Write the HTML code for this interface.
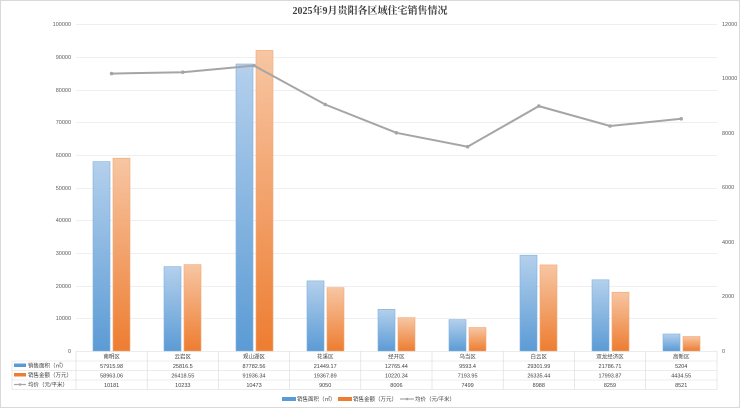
<!DOCTYPE html>
<html><head><meta charset="utf-8"><style>
body{margin:0;background:#fff}
svg{display:block;font-family:"Liberation Sans","Noto Sans CJK SC",sans-serif}
</style></head><body>
<svg width="740" height="408" viewBox="0 0 740 408" xmlns="http://www.w3.org/2000/svg">
<defs>
<linearGradient id="gb" x1="0" y1="0" x2="0" y2="1"><stop offset="0" stop-color="#b4d0ec"/><stop offset="1" stop-color="#5b9bd5"/></linearGradient>
<linearGradient id="go" x1="0" y1="0" x2="0" y2="1"><stop offset="0" stop-color="#f7c6a3"/><stop offset="1" stop-color="#ed7d31"/></linearGradient>
</defs>
<rect x="0.5" y="0.5" width="739" height="407" fill="#fff" stroke="#d9d9d9"/>
<text x="370" y="14" text-anchor="middle" font-size="10" font-weight="bold" fill="#404040" font-family="Liberation Serif,Noto Serif CJK SC,serif">2025年9月贵阳各区域住宅销售情况</text>
<g stroke="#efefef" stroke-width="1">
<line x1="76" x2="717" y1="24.5" y2="24.5"/><line x1="76" x2="717" y1="57.5" y2="57.5"/><line x1="76" x2="717" y1="90.5" y2="90.5"/><line x1="76" x2="717" y1="122.5" y2="122.5"/><line x1="76" x2="717" y1="155.5" y2="155.5"/><line x1="76" x2="717" y1="188.5" y2="188.5"/><line x1="76" x2="717" y1="220.5" y2="220.5"/><line x1="76" x2="717" y1="253.5" y2="253.5"/><line x1="76" x2="717" y1="286.5" y2="286.5"/><line x1="76" x2="717" y1="318.5" y2="318.5"/>
</g>
<g font-size="5.5" fill="#595959" text-anchor="end">
<text x="71" y="26">100000</text><text x="71" y="59">90000</text><text x="71" y="92">80000</text><text x="71" y="124">70000</text><text x="71" y="157">60000</text><text x="71" y="190">50000</text><text x="71" y="222">40000</text><text x="71" y="255">30000</text><text x="71" y="288">20000</text><text x="71" y="320">10000</text><text x="71" y="353">0</text>
</g>
<g font-size="5.5" fill="#595959">
<text x="722" y="26">12000</text><text x="722" y="80">10000</text><text x="722" y="135">8000</text><text x="722" y="189">6000</text><text x="722" y="244">4000</text><text x="722" y="298">2000</text><text x="722" y="353">0</text>
</g>
<g id="bars">
<rect x="93" y="161.6" width="17" height="189.4" fill="url(#gb)" stroke="#7fb0df" stroke-width="0.6"/>
<rect x="113" y="158.2" width="17" height="192.8" fill="url(#go)" stroke="#f2a877" stroke-width="0.6"/>
<rect x="164" y="266.6" width="17" height="84.4" fill="url(#gb)" stroke="#7fb0df" stroke-width="0.6"/>
<rect x="184" y="264.6" width="17" height="86.4" fill="url(#go)" stroke="#f2a877" stroke-width="0.6"/>
<rect x="236" y="64.0" width="17" height="287.0" fill="url(#gb)" stroke="#7fb0df" stroke-width="0.6"/>
<rect x="256" y="50.4" width="17" height="300.6" fill="url(#go)" stroke="#f2a877" stroke-width="0.6"/>
<rect x="307" y="280.9" width="17" height="70.1" fill="url(#gb)" stroke="#7fb0df" stroke-width="0.6"/>
<rect x="327" y="287.7" width="17" height="63.3" fill="url(#go)" stroke="#f2a877" stroke-width="0.6"/>
<rect x="378" y="309.3" width="17" height="41.7" fill="url(#gb)" stroke="#7fb0df" stroke-width="0.6"/>
<rect x="398" y="317.6" width="17" height="33.4" fill="url(#go)" stroke="#f2a877" stroke-width="0.6"/>
<rect x="449" y="319.6" width="17" height="31.4" fill="url(#gb)" stroke="#7fb0df" stroke-width="0.6"/>
<rect x="469" y="327.5" width="17" height="23.5" fill="url(#go)" stroke="#f2a877" stroke-width="0.6"/>
<rect x="520" y="255.2" width="17" height="95.8" fill="url(#gb)" stroke="#7fb0df" stroke-width="0.6"/>
<rect x="540" y="264.9" width="17" height="86.1" fill="url(#go)" stroke="#f2a877" stroke-width="0.6"/>
<rect x="592" y="279.8" width="17" height="71.2" fill="url(#gb)" stroke="#7fb0df" stroke-width="0.6"/>
<rect x="612" y="292.2" width="17" height="58.8" fill="url(#go)" stroke="#f2a877" stroke-width="0.6"/>
<rect x="663" y="334.0" width="17" height="17.0" fill="url(#gb)" stroke="#7fb0df" stroke-width="0.6"/>
<rect x="683" y="336.5" width="17" height="14.5" fill="url(#go)" stroke="#f2a877" stroke-width="0.6"/>
</g>
<polyline fill="none" stroke="#a5a5a5" stroke-width="2" points="111.6,73.6 182.8,72.2 254,65.6 325.2,104.5 396.4,132.8 467.6,146.7 538.8,106.1 610,126.0 681.2,118.8"/>
<g fill="#a5a5a5">
<circle cx="111.6" cy="73.6" r="1.8"/><circle cx="182.8" cy="72.2" r="1.8"/><circle cx="254" cy="65.6" r="1.8"/><circle cx="325.2" cy="104.5" r="1.8"/><circle cx="396.4" cy="132.8" r="1.8"/><circle cx="467.6" cy="146.7" r="1.8"/><circle cx="538.8" cy="106.1" r="1.8"/><circle cx="610" cy="126.0" r="1.8"/><circle cx="681.2" cy="118.8" r="1.8"/>
</g>
<g stroke="#d9d9d9" stroke-width="0.6" fill="none">
<line x1="76" x2="717" y1="351.5" y2="351.5"/>
<line x1="12" x2="717" y1="361" y2="361"/>
<line x1="12" x2="717" y1="370.5" y2="370.5"/>
<line x1="12" x2="717" y1="380" y2="380"/>
<line x1="12" x2="717" y1="389.5" y2="389.5"/>
<line x1="12" x2="12" y1="361" y2="389.5"/>
<line x1="76" x2="76" y1="351" y2="389.5"/><line x1="147.2" x2="147.2" y1="351" y2="389.5"/><line x1="218.4" x2="218.4" y1="351" y2="389.5"/><line x1="289.6" x2="289.6" y1="351" y2="389.5"/><line x1="360.8" x2="360.8" y1="351" y2="389.5"/><line x1="432" x2="432" y1="351" y2="389.5"/><line x1="503.2" x2="503.2" y1="351" y2="389.5"/><line x1="574.4" x2="574.4" y1="351" y2="389.5"/><line x1="645.6" x2="645.6" y1="351" y2="389.5"/><line x1="717" x2="717" y1="351" y2="389.5"/>
</g>
<rect x="14" y="363.5" width="12" height="3.5" fill="#5b9bd5"/>
<rect x="14" y="373" width="12" height="3.5" fill="#ed7d31"/>
<line x1="14" x2="26" y1="384.5" y2="384.5" stroke="#a5a5a5" stroke-width="1.2"/><circle cx="20" cy="384.5" r="1.3" fill="#a5a5a5"/>
<g font-size="5.5" fill="#404040">
<text x="28" y="367.5">销售面积（㎡）</text>
<text x="28" y="377">销售金额（万元）</text>
<text x="28" y="386.5">均价（元/平米）</text>
</g>
<g font-size="5.5" fill="#404040" text-anchor="middle">
<text x="111.6" y="358.5">南明区</text><text x="182.8" y="358.5">云岩区</text><text x="254" y="358.5">观山湖区</text><text x="325.2" y="358.5">花溪区</text><text x="396.4" y="358.5">经开区</text><text x="467.6" y="358.5">乌当区</text><text x="538.8" y="358.5">白云区</text><text x="610" y="358.5">双龙经济区</text><text x="681.2" y="358.5">高新区</text>
<text x="111.6" y="368">57915.98</text><text x="182.8" y="368">25816.5</text><text x="254" y="368">87782.56</text><text x="325.2" y="368">21449.17</text><text x="396.4" y="368">12765.44</text><text x="467.6" y="368">9593.4</text><text x="538.8" y="368">29301.99</text><text x="610" y="368">21786.71</text><text x="681.2" y="368">5204</text>
<text x="111.6" y="377.5">58963.06</text><text x="182.8" y="377.5">26418.55</text><text x="254" y="377.5">91936.34</text><text x="325.2" y="377.5">19367.89</text><text x="396.4" y="377.5">10220.34</text><text x="467.6" y="377.5">7193.95</text><text x="538.8" y="377.5">26335.44</text><text x="610" y="377.5">17993.87</text><text x="681.2" y="377.5">4434.55</text>
<text x="111.6" y="387">10181</text><text x="182.8" y="387">10233</text><text x="254" y="387">10473</text><text x="325.2" y="387">9050</text><text x="396.4" y="387">8006</text><text x="467.6" y="387">7499</text><text x="538.8" y="387">8988</text><text x="610" y="387">8259</text><text x="681.2" y="387">8521</text>
</g>
<rect x="282" y="397" width="14" height="4" fill="#5b9bd5"/>
<text x="297" y="401" font-size="5.5" fill="#404040">销售面积（㎡）</text>
<rect x="338" y="397" width="14" height="4" fill="#ed7d31"/>
<text x="353" y="401" font-size="5.5" fill="#404040">销售金额（万元）</text>
<line x1="400" x2="414" y1="399" y2="399" stroke="#a5a5a5" stroke-width="1.2"/><circle cx="407" cy="399" r="1.3" fill="#a5a5a5"/>
<text x="415" y="401" font-size="5.5" fill="#404040">均价（元/平米）</text>
</svg>
</body></html>
